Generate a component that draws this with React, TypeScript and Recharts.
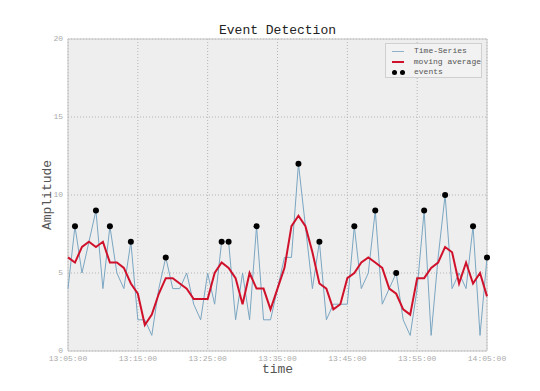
import React from 'react';
import {
  ComposedChart,
  Line,
  Scatter,
  XAxis,
  YAxis,
  CartesianGrid,
  ReferenceArea,
} from 'recharts';

// one reading per minute, starting at 13:05:00
const amplitude = [
  4, 8, 5, 7, 9, 4, 8, 5, 4, 7, 2, 2, 1, 4, 6, 4, 4, 5, 3, 2, 5,
  3, 7, 7, 2, 5, 2, 8, 2, 2, 4, 6, 6, 12, 8, 4, 7, 2, 3, 3, 3,
  8, 4, 5, 9, 3, 4, 5, 2, 1, 4, 9, 1, 6, 10, 4, 5, 4, 8, 1, 6,
];

const movingAverage = [
  6, 5.67, 6.67, 7, 6.67, 7, 5.67, 5.67, 5.33, 4.33, 3.67, 1.67, 2.33, 3.67, 4.67, 4.67, 4.33, 4, 3.33, 3.33, 3.33,
  5, 5.67, 5.33, 4.67, 3, 5, 4, 4, 2.67, 4, 5.33, 8, 8.67, 8, 6.33, 4.33, 4, 2.67, 3, 4.67,
  5, 5.67, 6, 5.67, 5.33, 4, 3.67, 2.67, 2.33, 4.67, 4.67, 5.33, 5.67, 6.67, 6.33, 4.33, 5.67, 4.33, 5, 3.5,
];

// minute index of each detected event
const eventMinutes = [1, 4, 6, 9, 14, 22, 23, 27, 33, 36, 41, 44, 47, 51, 54, 58, 60];

const xTicks = [0, 10, 20, 30, 40, 50, 60];
const xTickLabels = ['13:05:00', '13:15:00', '13:25:00', '13:35:00', '13:45:00', '13:55:00', '14:05:00'];
const yTicks = [0, 5, 10, 15, 20];

const data = amplitude.map((v, i) => ({ t: i, value: v, avg: movingAverage[i] }));
const events = eventMinutes.map((m) => ({ t: m, event: amplitude[m] }));

const FONT = '"Liberation Mono", "DejaVu Sans Mono", monospace';

const EventDot = (props: any) => <circle cx={props.cx} cy={props.cy} r={3} fill="#000" />;

const LegendBox = () => (
  <div
    style={{
      position: 'absolute',
      left: 385,
      top: 43,
      width: 97,
      height: 35,
      boxSizing: 'border-box',
      fontFamily: FONT,
      fontSize: 8,
      color: '#555',
      background: '#f2f2f2',
      border: '1px solid #d0d0d0',
      padding: '2px 0 0 6px',
      lineHeight: '10.5px',
      whiteSpace: 'nowrap',
    }}
  >
    <div style={{ display: 'flex', alignItems: 'center' }}>
      <span style={{ width: 12, height: 1, background: '#8fb0c6', marginRight: 10 }} />
      Time-Series
    </div>
    <div style={{ display: 'flex', alignItems: 'center' }}>
      <span style={{ width: 12, height: 2, background: '#d0112b', marginRight: 10 }} />
      moving average
    </div>
    <div style={{ display: 'flex', alignItems: 'center' }}>
      <span style={{ width: 5, height: 5, borderRadius: 3, background: '#000', marginRight: 3 }} />
      <span style={{ width: 5, height: 5, borderRadius: 3, background: '#000', marginRight: 9 }} />
      events
    </div>
  </div>
);

const App: React.FC = () => {
  return (
    <div style={{ position: 'absolute', left: 0, top: 0, width: 540, height: 391, background: '#fff' }}>
      <ComposedChart
        width={540}
        height={391}
        data={data}
        margin={{ top: 39, right: 53, left: 0, bottom: 0 }}
      >
        <CartesianGrid fill="#eeeeee" fillOpacity={1} stroke="#b5b5b5" strokeDasharray="1 2" />
        <XAxis
          dataKey="t"
          type="number"
          domain={[0, 60]}
          ticks={xTicks}
          tickFormatter={(v: number) => xTickLabels[xTicks.indexOf(v)]}
          axisLine={false}
          tickLine={false}
          tickSize={0}
          tickMargin={4}
          height={40}
          tick={{ fontSize: 8, fill: '#aaaaaa', fontFamily: FONT }}
        />
        <YAxis
          type="number"
          domain={[0, 20]}
          ticks={yTicks}
          axisLine={false}
          tickLine={false}
          tickSize={0}
          tickMargin={5}
          width={68}
          tick={{ fontSize: 8, fill: '#aaaaaa', fontFamily: FONT, dy: -1 }}
        />
        <ReferenceArea x1={0} x2={60} y1={0} y2={20} fill="none" stroke="#c4c4c4" strokeWidth={1} />
        <Line
          dataKey="value"
          stroke="#7aa6c2"
          strokeWidth={1}
          dot={false}
          isAnimationActive={false}
        />
        <Line
          dataKey="avg"
          stroke="#d0112b"
          strokeWidth={2}
          dot={false}
          isAnimationActive={false}
        />
        <Scatter data={events} dataKey="event" shape={EventDot} isAnimationActive={false} />
      </ComposedChart>
      <LegendBox />
      <div
        style={{
          position: 'absolute',
          left: 68,
          width: 419,
          top: 23,
          textAlign: 'center',
          fontFamily: FONT,
          fontSize: 13,
          color: '#222',
        }}
      >
        Event Detection
      </div>
      <div
        style={{
          position: 'absolute',
          left: 68,
          width: 419,
          top: 362,
          textAlign: 'center',
          fontFamily: FONT,
          fontSize: 13,
          color: '#555',
        }}
      >
        time
      </div>
      <div
        style={{
          position: 'absolute',
          left: 47,
          top: 195,
          transform: 'translate(-50%, -50%) rotate(-90deg)',
          fontFamily: FONT,
          fontSize: 13,
          color: '#555',
          whiteSpace: 'nowrap',
        }}
      >
        Amplitude
      </div>
    </div>
  );
};

export default App;
